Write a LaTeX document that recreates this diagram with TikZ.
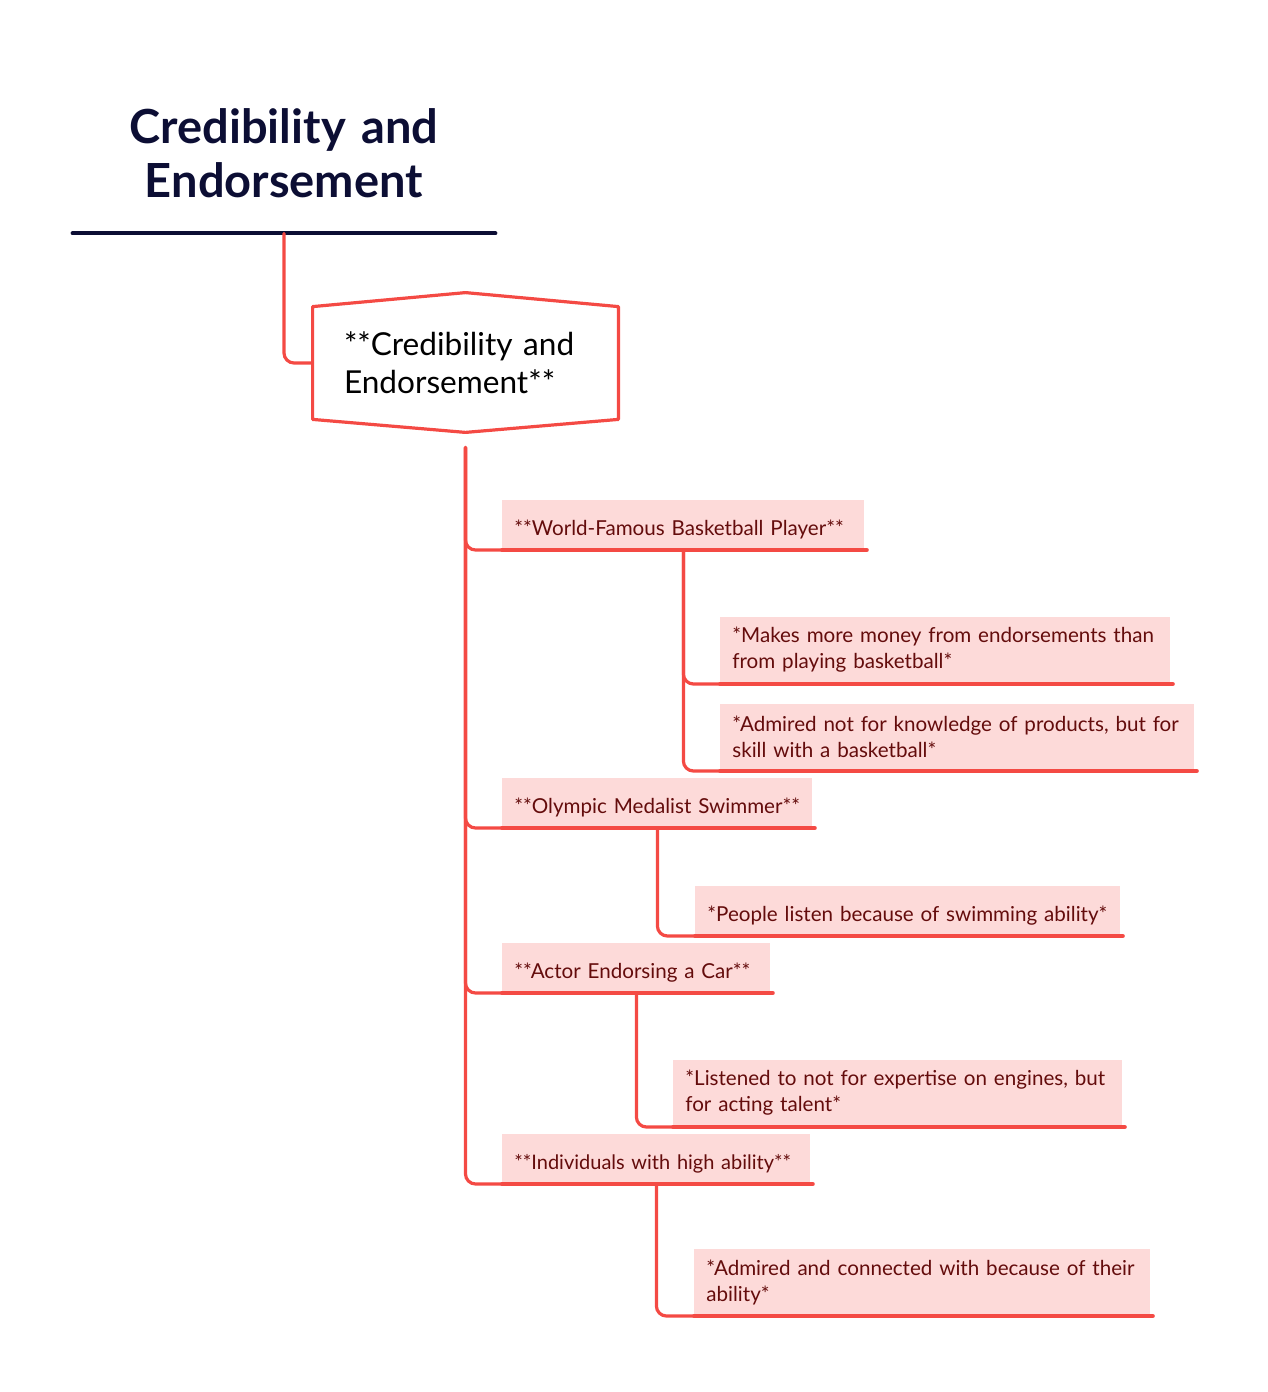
\documentclass[tikz,border=0pt]{standalone}
\usepackage{fontspec}
\setmainfont{Lato}
\usepackage{tikz}
\usetikzlibrary{positioning, calc}
\definecolor{MapRed}{RGB}{244, 74, 68}
\definecolor{MapPink}{RGB}{253, 218, 217}
\definecolor{MapInk}{RGB}{100, 12, 12}
\definecolor{MapNavy}{RGB}{12, 14, 52}
\tikzset{
    every path/.style={line cap=round, line join=round},
    link/.style={MapRed, line width=1.6pt, rounded corners=5pt},
    base/.style={MapRed, line width=2pt},
    detail/.style={fill=MapPink, text=MapInk, font=\fontsize{10.3}{13}\selectfont,
        align=left, inner xsep=6pt, inner ysep=0pt, anchor=south west, minimum height=33.5pt},
    topic/.style={detail, minimum height=25pt, text height=12pt, text depth=1pt}
}

\begin{document}
\begin{tikzpicture}[x=0.5pt, y=-0.5pt]
    \useasboundingbox (0,0) rectangle (1268,1392);

    \node [
        text=MapNavy,
        font=\fontsize{23.5}{27}\selectfont\bfseries,
        align=center,
        text width=211pt,
        minimum height=80pt,
        inner sep=0pt
    ] (title) at (284,153) {Credibility and\\Endorsement};
    \draw [MapNavy, line width=2pt] (title.south west) -- (title.south east);

    \node [
        font=\fontsize{15.8}{19}\selectfont,
        align=left,
        text width=121.5pt,
        inner xsep=15.5pt,
        minimum height=56pt
    ] (root) at (465.5,363) {**Credibility and\\Endorsement**};
    \draw [MapRed, line width=1.6pt] (root.north west) -- ($(root.north)+(0,-14)$)
        -- (root.north east) -- (root.south east) -- ($(root.south)+(0,13)$)
        -- (root.south west) -- cycle;
    \draw [link] (title.south) |- (root.west);
    \coordinate (trunk) at ($(root.south)+(0,28)$);

    % main branches
    \node [topic, text width=169pt] (player) at (502,550) {**World-Famous Basketball Player**};
    \node [topic, text width=143pt] (swimmer) at (502,828) {**Olympic Medalist Swimmer**};
    \node [topic, text width=122pt] (actor) at (502,993) {**Actor Endorsing a Car**};
    \node [topic, text width=142pt, font=\fontsize{10}{13}\selectfont] (ability) at (502,1184) {**Individuals with high ability**};

    % details
    \node [detail, text width=213pt] (money) at (720,684) {*Makes more money from endorsements than\\from playing basketball*};
    \node [detail, text width=225pt] (skill) at (720,771) {*Admired not for knowledge of products, but for\\skill with a basketball*};
    \node [topic, text width=200.5pt] (listen) at (695,936) {*People listen because of swimming ability*};
    \node [detail, text width=212.5pt] (talent) at (673,1127) {*Listened to not for expertise on engines, but\\for acting talent*};
    \node [detail, text width=216pt] (admired) at (694,1316) {*Admired and connected with because of their\\ability*};

    \foreach \n in {player, swimmer, actor, ability}
        \draw [link] (trunk) |- (\n.south west);
    \draw [link] (player.south) |- (money.south west);
    \draw [link] (player.south) |- (skill.south west);
    \draw [link] (swimmer.south) |- (listen.south west);
    \draw [link] (actor.south) |- (talent.south west);
    \draw [link] (ability.south) |- (admired.south west);

    \foreach \n in {player, swimmer, actor, ability, money, skill, listen, talent, admired}
        \draw [base] (\n.south west) -- ($(\n.south east)+(2,0)$);
\end{tikzpicture}
\end{document}
